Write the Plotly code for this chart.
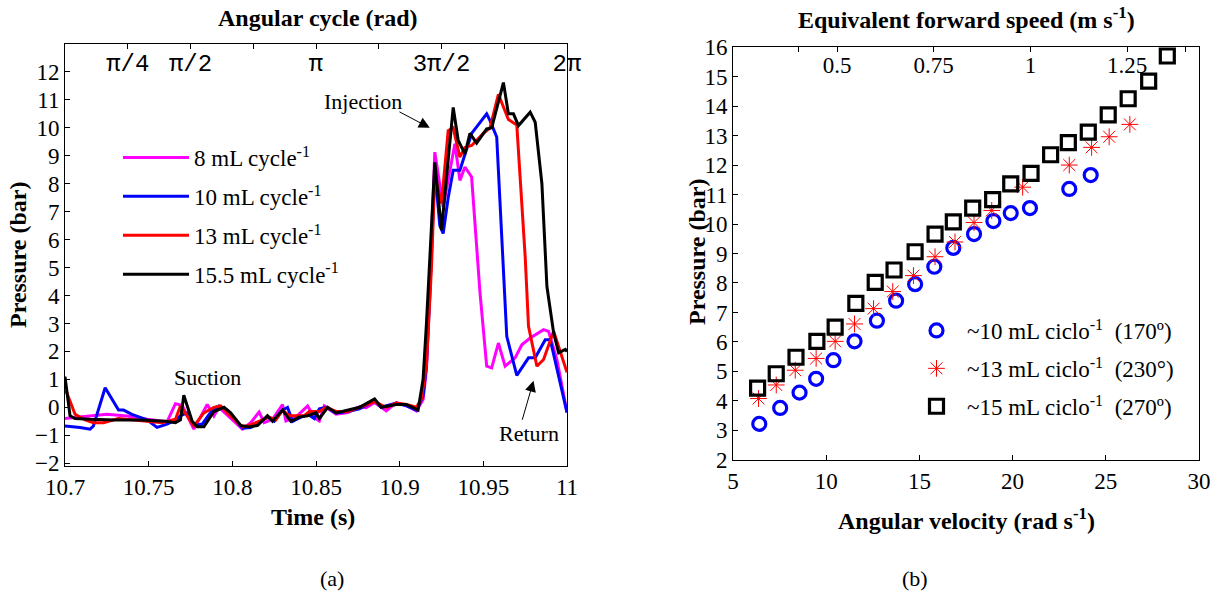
import math
import plotly.graph_objects as go

# ---------------- Panel (a): pressure vs time ----------------
t_8 = [10.700, 10.713, 10.725, 10.737, 10.749, 10.761, 10.766, 10.770, 10.777, 10.785,
       10.789, 10.792, 10.799, 10.806, 10.811, 10.816, 10.819, 10.824, 10.830, 10.832,
       10.838, 10.845, 10.849, 10.852, 10.855, 10.862, 10.869, 10.876, 10.880, 10.885,
       10.892, 10.898, 10.904, 10.910, 10.914, 10.916, 10.921, 10.926, 10.933, 10.936,
       10.939, 10.943, 10.948, 10.952, 10.955, 10.959, 10.963, 10.969, 10.973, 10.978,
       10.986, 10.989, 10.994, 11.000]
p_8 = [-0.40, -0.31, -0.25, -0.31, -0.43, -0.52, 0.13, 0.07, -0.78, 0.10,
       -0.31, 0.00, -0.40, -0.78, -0.55, -0.17, -0.55, -0.43, 0.10, -0.49,
       -0.35, 0.05, -0.37, -0.49, 0.05, -0.25, -0.19, 0.02, -0.01, 0.17,
       -0.13, 0.17, 0.07, -0.13, 0.28, 1.35, 9.13, 7.17, 9.43, 8.12,
       8.60, 8.24, 4.10, 1.47, 1.41, 2.30, 1.47, 1.77, 2.24, 2.48,
       2.78, 2.72, 1.70, -0.18]

t_10 = [10.700, 10.709, 10.715, 10.717, 10.724, 10.732, 10.735, 10.740, 10.749, 10.755,
        10.761, 10.766, 10.769, 10.773, 10.777, 10.782, 10.788, 10.792, 10.797, 10.802,
        10.806, 10.811, 10.816, 10.821, 10.825, 10.830, 10.833, 10.836, 10.841, 10.845,
        10.849, 10.852, 10.856, 10.862, 10.869, 10.876, 10.881, 10.885, 10.889, 10.892,
        10.898, 10.904, 10.910, 10.914, 10.916, 10.918, 10.921, 10.924, 10.926, 10.929,
        10.932, 10.936, 10.943, 10.952, 10.954, 10.958, 10.960, 10.962, 10.964, 10.970,
        10.977, 10.981, 10.987, 10.990, 11.000]
p_10 = [-0.67, -0.72, -0.78, -0.67, 0.70, -0.10, -0.10, -0.25, -0.45, -0.72,
        -0.60, -0.45, -0.30, -0.20, -0.65, -0.60, -0.10, 0.05, -0.10, -0.45,
        -0.75, -0.72, -0.55, -0.35, -0.50, -0.10, 0.00, -0.50, -0.35, -0.25,
        -0.40, -0.05, 0.00, -0.20, -0.15, -0.05, 0.10, 0.25, 0.00, 0.05,
        0.15, 0.05, -0.10, 0.40, 1.50, 4.00, 8.50, 6.50, 6.22, 7.50,
        8.48, 8.48, 9.80, 10.50, 10.26, 9.67, 7.30, 5.00, 2.54, 1.14,
        1.77, 1.77, 2.42, 2.42, -0.19]

t_13 = [10.700, 10.701, 10.706, 10.712, 10.717, 10.723, 10.732, 10.749, 10.758, 10.766,
        10.769, 10.777, 10.783, 10.789, 10.793, 10.797, 10.803, 10.806, 10.812, 10.818,
        10.822, 10.826, 10.830, 10.834, 10.838, 10.843, 10.846, 10.852, 10.856, 10.862,
        10.869, 10.876, 10.885, 10.892, 10.898, 10.904, 10.910, 10.913, 10.916, 10.919,
        10.921, 10.925, 10.929, 10.932, 10.936, 10.939, 10.943, 10.946, 10.950, 10.954,
        10.959, 10.965, 10.970, 10.975, 10.977, 10.982, 10.986, 10.992, 11.000]
p_13 = [0.58, 0.53, -0.25, -0.45, -0.55, -0.55, -0.40, -0.49, -0.55, -0.43,
        0.05, -0.67, -0.20, 0.00, 0.05, -0.20, -0.55, -0.70, -0.60, -0.45,
        -0.35, -0.45, -0.10, -0.30, -0.30, -0.30, -0.15, -0.15, 0.00, -0.15,
        -0.15, 0.00, 0.20, 0.00, 0.15, 0.10, 0.00, 0.30, 1.50, 5.00,
        8.30, 7.30, 9.90, 10.00, 8.95, 9.30, 9.37, 9.55, 9.80, 10.00,
        11.20, 10.30, 10.10, 5.40, 2.90, 1.47, 1.71, 2.72, 1.25]

t_155 = [10.700, 10.703, 10.706, 10.715, 10.730, 10.745, 10.760, 10.766, 10.769, 10.771,
         10.776, 10.779, 10.783, 10.789, 10.795, 10.799, 10.805, 10.810, 10.815, 10.821,
         10.824, 10.830, 10.835, 10.840, 10.845, 10.850, 10.852, 10.857, 10.862, 10.869,
         10.876, 10.885, 10.889, 10.898, 10.904, 10.911, 10.914, 10.916, 10.918, 10.921,
         10.925, 10.932, 10.935, 10.939, 10.942, 10.946, 10.952, 10.955, 10.962, 10.965,
         10.968, 10.971, 10.978, 10.981, 10.985, 10.988, 10.992, 10.995, 10.999, 11.000]
p_155 = [1.10, -0.30, -0.40, -0.43, -0.45, -0.45, -0.50, -0.55, -0.45, 0.43,
         -0.50, -0.70, -0.70, -0.15, 0.00, -0.20, -0.65, -0.70, -0.65, -0.30,
         -0.50, -0.10, -0.50, -0.35, -0.30, -0.20, -0.40, 0.00, -0.20, -0.10,
         0.00, 0.30, 0.00, 0.10, 0.10, -0.10, 1.00, 3.00, 5.50, 8.77,
         6.34, 10.73, 9.55, 9.07, 9.80, 9.45, 9.96, 10.00, 11.62, 10.50,
         10.50, 10.08, 10.56, 10.20, 8.00, 4.32, 2.67, 1.95, 2.07, 2.00]

series_a = [
    ("8 mL cycle<sup>-1</sup>", t_8, p_8, "#FF00FF"),
    ("10 mL cycle<sup>-1</sup>", t_10, p_10, "#0000FF"),
    ("13 mL cycle<sup>-1</sup>", t_13, p_13, "#FF0000"),
    ("15.5 mL cycle<sup>-1</sup>", t_155, p_155, "#000000"),
]
time_ticks = [10.7, 10.75, 10.8, 10.85, 10.9, 10.95, 11.0]
time_ticktext = ["10.7", "10.75", "10.8", "10.85", "10.9", "10.95", "11"]
angle_range = [0, 2 * math.pi]
angle_ticks = [k * math.pi / 4 for k in range(9)]
angle_ticktext = ["", "π/4", "π/2", "", "π", "", "3π/2", "", "2π"]

# ---------------- Panel (b): pressure vs angular velocity ----------------
w_10 = [6.41, 7.53, 8.57, 9.46, 10.39, 11.52, 12.72, 13.75, 14.77, 15.80, 16.82, 17.93,
        18.97, 19.90, 20.93, 23.04, 24.19]
p_10b = [3.22, 3.76, 4.28, 4.75, 5.38, 6.02, 6.72, 7.40, 7.96, 8.55, 9.19, 9.66,
         10.10, 10.37, 10.54, 11.19, 11.66]
w_13 = [6.37, 7.32, 8.34, 9.46, 10.48, 11.52, 12.54, 13.57, 14.68, 15.84, 16.91, 17.93,
        18.88, 20.54, 23.04, 24.24, 25.18, 26.29]
p_13b = [4.08, 4.54, 5.04, 5.44, 6.02, 6.61, 7.13, 7.71, 8.25, 8.89, 9.39, 10.05,
         10.46, 11.25, 12.00, 12.60, 12.96, 13.38]
w_15 = [6.32, 7.32, 8.38, 9.50, 10.48, 11.59, 12.63, 13.64, 14.77, 15.84, 16.82, 17.86,
        18.93, 19.90, 20.99, 22.04, 22.99, 24.06, 25.13, 26.20, 27.30, 28.30]
p_15b = [4.43, 4.92, 5.48, 6.02, 6.50, 7.31, 8.02, 8.44, 9.06, 9.66, 10.07, 10.54,
         10.83, 11.36, 11.72, 12.35, 12.76, 13.12, 13.70, 14.25, 14.85, 15.70]

NB = "\u00a0"
series_b = [
    ("~10 mL ciclo<sup>-1</sup>" + NB * 2 + "(170º)", w_10, p_10b, "#0000FF", "circle-open", 13, 3.2),
    ("~13 mL ciclo<sup>-1</sup>" + NB * 2 + "(230°)", w_13, p_13b, "#FF0000", "asterisk-open", 14, 1.0),
    ("~15 mL ciclo<sup>-1</sup>" + NB * 2 + "(270º)", w_15, p_15b, "#000000", "square-open", 14, 3.2),
]
speed_range = [0.231, 1.436]
speed_ticks = [0.4, 0.5, 0.75, 1.0, 1.25, 1.4]
speed_ticktext = ["", "0.5", "0.75", "1", "1.25", ""]

W, H = 1220, 594
SERIF = "Times New Roman, Liberation Serif, DejaVu Serif, serif"
MONO = "Liberation Mono, Courier New, DejaVu Sans Mono, monospace"


def px(x):
    return x / W


def py(y):
    return 1 - y / H


fig = go.Figure()

for i, (name, t, p, c) in enumerate(series_a):
    fig.add_trace(go.Scatter(x=t, y=p, mode="lines", name=name,
                             line=dict(color=c, width=3),
                             xaxis="x", yaxis="y", legend="legend",
                             legendgroup="a%d" % i))

for i, (name, w, p, c, sym, sz, lw) in enumerate(series_b):
    fig.add_trace(go.Scatter(x=w, y=p, mode="markers", name=name,
                             marker=dict(symbol=sym, size=sz, color=c,
                                         line=dict(color=c, width=lw)),
                             xaxis="x3", yaxis="y3", legend="legend2",
                             legendgroup="b%d" % i))

# invisible carriers so the secondary (top) axes get drawn
fig.add_trace(go.Scatter(x=angle_range, y=[0, 0], mode="lines", line=dict(width=0),
                         opacity=0, xaxis="x2", yaxis="y", showlegend=False,
                         hoverinfo="skip"))
fig.add_trace(go.Scatter(x=speed_range, y=[2, 2], mode="lines", line=dict(width=0),
                         opacity=0, xaxis="x4", yaxis="y3", showlegend=False,
                         hoverinfo="skip"))

axis_common = dict(showgrid=False, zeroline=False, showline=True, linecolor="black",
                   linewidth=1, ticks="inside", ticklen=5, tickcolor="black",
                   automargin=False,
                   tickfont=dict(family=SERIF, size=23, color="black"))

dom_ax = [px(65), px(567)]
dom_ay = [py(466), py(44)]
dom_bx = [px(733), px(1199)]
dom_by = [py(460), py(47)]

top_common = dict(ticklabelposition="inside", ticklabeloverflow="allow",
                  ticklabelstandoff=7,
                  showgrid=False, zeroline=False, showline=False,
                  ticks="inside", ticklen=5, tickcolor="black", automargin=False)

fig.update_layout(
    width=W, height=H,
    margin=dict(l=0, r=0, t=0, b=0),
    paper_bgcolor="white", plot_bgcolor="white",
    xaxis=dict(domain=dom_ax, range=[10.7, 11.0], anchor="y", mirror=True,
               tickvals=time_ticks, ticktext=time_ticktext, **axis_common),
    yaxis=dict(domain=dom_ay, range=[-2.1, 13.0], anchor="x", mirror=True,
               tickvals=list(range(-2, 13)), **axis_common),
    xaxis2=dict(overlaying="x", side="top", anchor="y", range=angle_range,
                tickvals=angle_ticks, ticktext=angle_ticktext,
                tickfont=dict(family=MONO, size=24, color="black"), **top_common),
    xaxis3=dict(domain=dom_bx, range=[5, 30], anchor="y3", mirror=True,
                tickvals=[5, 10, 15, 20, 25, 30], **axis_common),
    yaxis3=dict(domain=dom_by, range=[1.995, 16.005], anchor="x3", mirror=True,
                tickvals=list(range(2, 17)), **axis_common),
    xaxis4=dict(overlaying="x3", side="top", anchor="y3", range=speed_range,
                tickvals=speed_ticks, ticktext=speed_ticktext,
                tickfont=dict(family=SERIF, size=23, color="black"), **top_common),
    legend=dict(x=px(118), y=py(136), xanchor="left", yanchor="top",
                bgcolor="rgba(0,0,0,0)", itemwidth=66, tracegroupgap=6,
                font=dict(family=SERIF, size=23, color="black")),
    legend2=dict(x=px(906), y=py(309), xanchor="left", yanchor="top",
                 bgcolor="rgba(0,0,0,0)", itemwidth=51, tracegroupgap=5,
                 font=dict(family=SERIF, size=23, color="black")),
    showlegend=True,
)

title_font = dict(family=SERIF, size=24, color="black")
text_font = dict(family=SERIF, size=22, color="black")
annots = [
    dict(text="<b>Angular cycle (rad)</b>", x=px(318), y=py(18), font=title_font),
    dict(text="<b>Time (s)</b>", x=px(313), y=py(517), font=title_font),
    dict(text="<b>Pressure (bar)</b>", x=px(18), y=py(255), font=title_font, textangle=-90),
    dict(text="<b>Equivalent forward speed (m s<sup>-1</sup>)</b>", x=px(966), y=py(18), font=title_font),
    dict(text="<b>Angular velocity (rad s<sup>-1</sup>)</b>", x=px(966), y=py(519), font=title_font),
    dict(text="<b>Pressure (bar)</b>", x=px(697), y=py(252), font=title_font, textangle=-90),
    dict(text="(a)", x=px(332), y=py(578), font=text_font),
    dict(text="(b)", x=px(915), y=py(578), font=text_font),
]
for a in annots:
    fig.add_annotation(xref="paper", yref="paper", showarrow=False,
                       xanchor="center", yanchor="middle", **a)

# in-plot labels (data coordinates of panel a)
fig.add_annotation(xref="x", yref="y", x=10.878, y=10.95, text="Injection",
                   showarrow=False, font=text_font)
fig.add_annotation(xref="x", yref="y", x=10.785, y=1.07, text="Suction",
                   showarrow=False, font=text_font)
fig.add_annotation(xref="x", yref="y", x=10.977, y=-0.93, text="Return",
                   showarrow=False, font=text_font)
fig.add_annotation(xref="x", yref="y", axref="x", ayref="y",
                   x=10.918, y=10.0, ax=10.899, ay=10.6, text="",
                   showarrow=True, arrowhead=2, arrowsize=2.2, arrowwidth=1,
                   arrowcolor="black")
fig.add_annotation(xref="x", yref="y", axref="x", ayref="y",
                   x=10.980, y=0.95, ax=10.973, ay=-0.5, text="",
                   showarrow=True, arrowhead=2, arrowsize=2.2, arrowwidth=1,
                   arrowcolor="black")

fig.write_html("out.html", config={"displayModeBar": False},
               post_script="document.body.style.margin='0px';"
                           "document.body.style.overflow='hidden';")
